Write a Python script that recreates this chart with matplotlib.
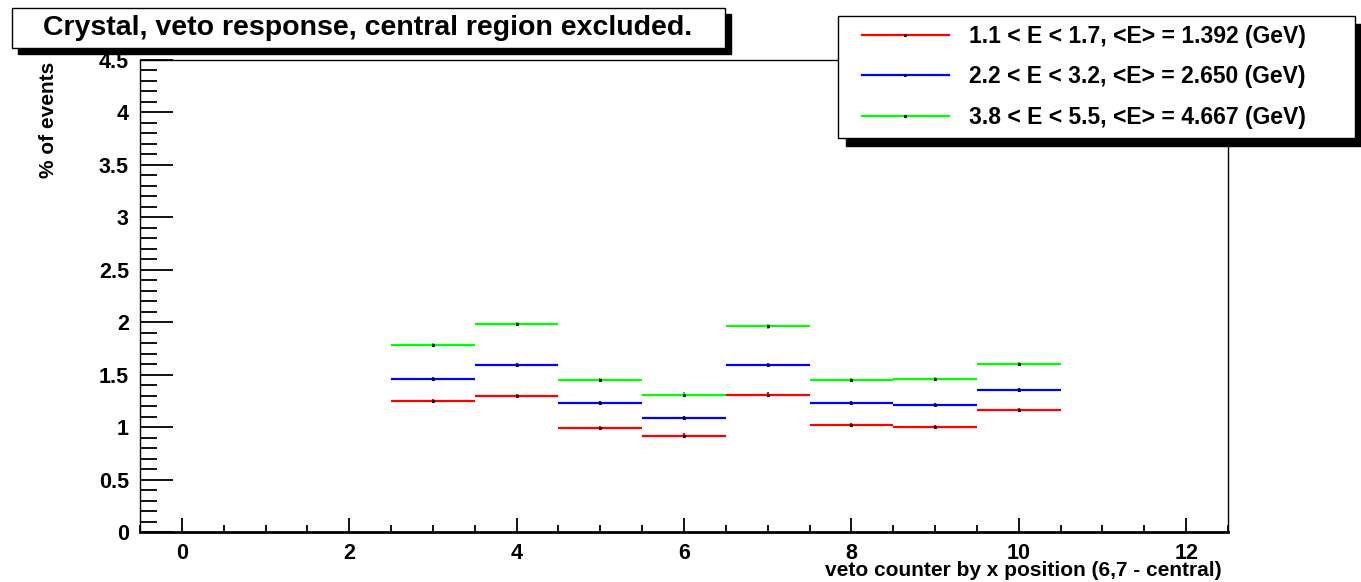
import matplotlib
matplotlib.use('Agg')
import matplotlib.pyplot as plt
from matplotlib.patches import Rectangle
from matplotlib.lines import Line2D
from matplotlib.ticker import MultipleLocator, FuncFormatter

plt.rcParams['font.family'] = ['Liberation Sans', 'DejaVu Sans']
plt.rcParams['font.weight'] = 'bold'

W, H = 1361, 582

# veto counter index (bins of width 1)
counters = [3, 4, 5, 6, 7, 8, 9, 10]

# % of events per energy range
red_vals = [1.25, 1.30, 0.99, 0.92, 1.31, 1.02, 1.00, 1.16]
blue_vals = [1.46, 1.59, 1.23, 1.09, 1.59, 1.23, 1.21, 1.35]
green_vals = [1.78, 1.98, 1.45, 1.31, 1.96, 1.45, 1.46, 1.60]
err = [0.02, 0.02, 0.02, 0.02, 0.02, 0.02, 0.02, 0.02]

labels = ['1.1 < E < 1.7, <E> = 1.392 (GeV)',
          '2.2 < E < 3.2, <E> = 2.650 (GeV)',
          '3.8 < E < 5.5, <E> = 4.667 (GeV)']
colors = ['#ff0000', '#0000ff', '#00ff00']

fig = plt.figure(figsize=(W / 100, H / 100), dpi=100)

def fx(px):
    return px / W

def fy(py):
    return 1 - py / H

ax = fig.add_axes([fx(140), fy(532), fx(1228) - fx(140), fy(60) - fy(532)])

for vals, c in zip([red_vals, blue_vals, green_vals], colors):
    ax.errorbar(counters, vals, xerr=0.5, yerr=err, fmt='none',
                ecolor=c, elinewidth=1.6, capsize=0)
    ax.plot(counters, vals, 's', color='black', ms=1.2)

ax.set_xlim(-0.5, 12.5)
ax.set_ylim(0, 4.5)
ax.xaxis.set_major_locator(MultipleLocator(2))
ax.xaxis.set_minor_locator(MultipleLocator(0.5))
ax.yaxis.set_major_locator(MultipleLocator(0.5))
ax.yaxis.set_minor_locator(MultipleLocator(0.1))
ax.yaxis.set_major_formatter(FuncFormatter(lambda v, p: '{:g}'.format(v)))
ax.tick_params(axis='both', which='both', direction='in', top=False, right=False,
               labelsize=15.5, width=1.3)
ax.tick_params(axis='y', which='major', length=24, pad=8)
ax.tick_params(axis='y', which='minor', length=12)
ax.tick_params(axis='x', which='major', length=10, pad=8)
ax.tick_params(axis='x', which='minor', length=5)
for lab in ax.get_xticklabels() + ax.get_yticklabels():
    lab.set_fontweight('bold')
for s in ax.spines.values():
    s.set_linewidth(1.0)
ax.spines['bottom'].set_linewidth(2.0)

fig.text(fx(48), fy(62), '% of events', rotation=90, ha='center', va='top',
         fontsize=15, fontweight='bold')
fig.text(fx(1222), fy(571), 'veto counter by x position (6,7 - central)',
         ha='right', va='center', fontsize=15, fontweight='bold')

# title box with shadow
fig.patches.append(Rectangle((fx(18), fy(54)), fx(725) - fx(12), fy(8) - fy(48),
                             transform=fig.transFigure, facecolor='black',
                             edgecolor='black', zorder=5))
fig.patches.append(Rectangle((fx(12), fy(48)), fx(725) - fx(12), fy(8) - fy(48),
                             transform=fig.transFigure, facecolor='white',
                             edgecolor='black', lw=1.0, zorder=6))
fig.text(fx(368), fy(28), 'Crystal, veto response, central region excluded.',
         ha='center', va='center', fontsize=20.5, fontweight='bold', zorder=7)

# legend box with shadow
fig.patches.append(Rectangle((fx(846), fy(146)), fx(1355) - fx(838), fy(16) - fy(138),
                             transform=fig.transFigure, facecolor='black',
                             edgecolor='black', zorder=5))
fig.patches.append(Rectangle((fx(838), fy(138)), fx(1355) - fx(838), fy(16) - fy(138),
                             transform=fig.transFigure, facecolor='white',
                             edgecolor='black', lw=1.0, zorder=6))
handles = [Line2D([], [], color=c, lw=1.6, marker='s', ms=1.2,
                  markerfacecolor='black', markeredgecolor='black') for c in colors]
leg = fig.legend(handles, labels, loc='center left',
                 bbox_to_anchor=(fx(841), fy(77)), frameon=False,
                 prop={'size': 16.5, 'weight': 'bold'}, handlelength=3.8,
                 handletextpad=0.9, labelspacing=0.78)
leg.set_zorder(8)

fig.savefig('out.png', dpi=100)
